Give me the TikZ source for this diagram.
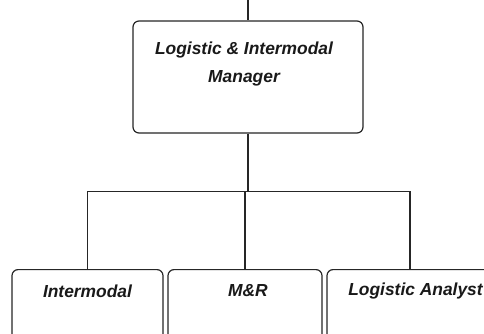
\documentclass[tikz,border=0pt]{standalone}
\usepackage{fontspec}
\setmainfont{Liberation Sans}
\begin{document}
\begin{tikzpicture}[x=1pt,y=-1pt,
  orgbox/.style={draw=black!85, line width=1.2pt, rounded corners=6pt, fill=white, inner sep=0pt},
  orgtext/.style={font=\fontsize{17.4}{28}\selectfont\bfseries\itshape, text=black!90, align=center, inner sep=0pt},
  link/.style={draw=black!85, line width=1.1pt}]
  \useasboundingbox (0,0) rectangle (484,333);
  \clip (0,0) rectangle (484,333);
  % manager box
  \node[orgbox, minimum width=230pt, minimum height=112pt] (mgr) at (248,77) {};
  \node[orgtext, anchor=center] (mgrtext) at (244,64) {Logistic \& Intermodal\\Manager};
  % subordinate boxes
  \node[orgbox, minimum width=151pt, minimum height=100pt, anchor=north] (inter) at (87.5,269) {};
  \node[orgbox, minimum width=154pt, minimum height=100pt, anchor=north] (mr) at (245,269) {};
  \node[orgbox, minimum width=166pt, minimum height=100pt, anchor=north] (analyst) at (410,269) {};
  \node[orgtext] (intertext) at (87.5,291) {Intermodal};
  \node[orgtext] (mrtext) at (248,291) {M\&R};
  \node[orgtext] (analysttext) at (415.5,291) {Logistic Analyst};
  % connectors
  \coordinate (feed) at (248,0);
  \coordinate (bus) at (248,191.5);
  \draw[link] (feed) -- (mgr.north);
  \draw[link] (mgr.south) -- (bus);
  \draw[link] (inter.north) -- (inter.north |- bus) -- (analyst.north |- bus) -- (analyst.north);
  \draw[link] (mr.north) -- (mr.north |- bus);
\end{tikzpicture}
\end{document}
